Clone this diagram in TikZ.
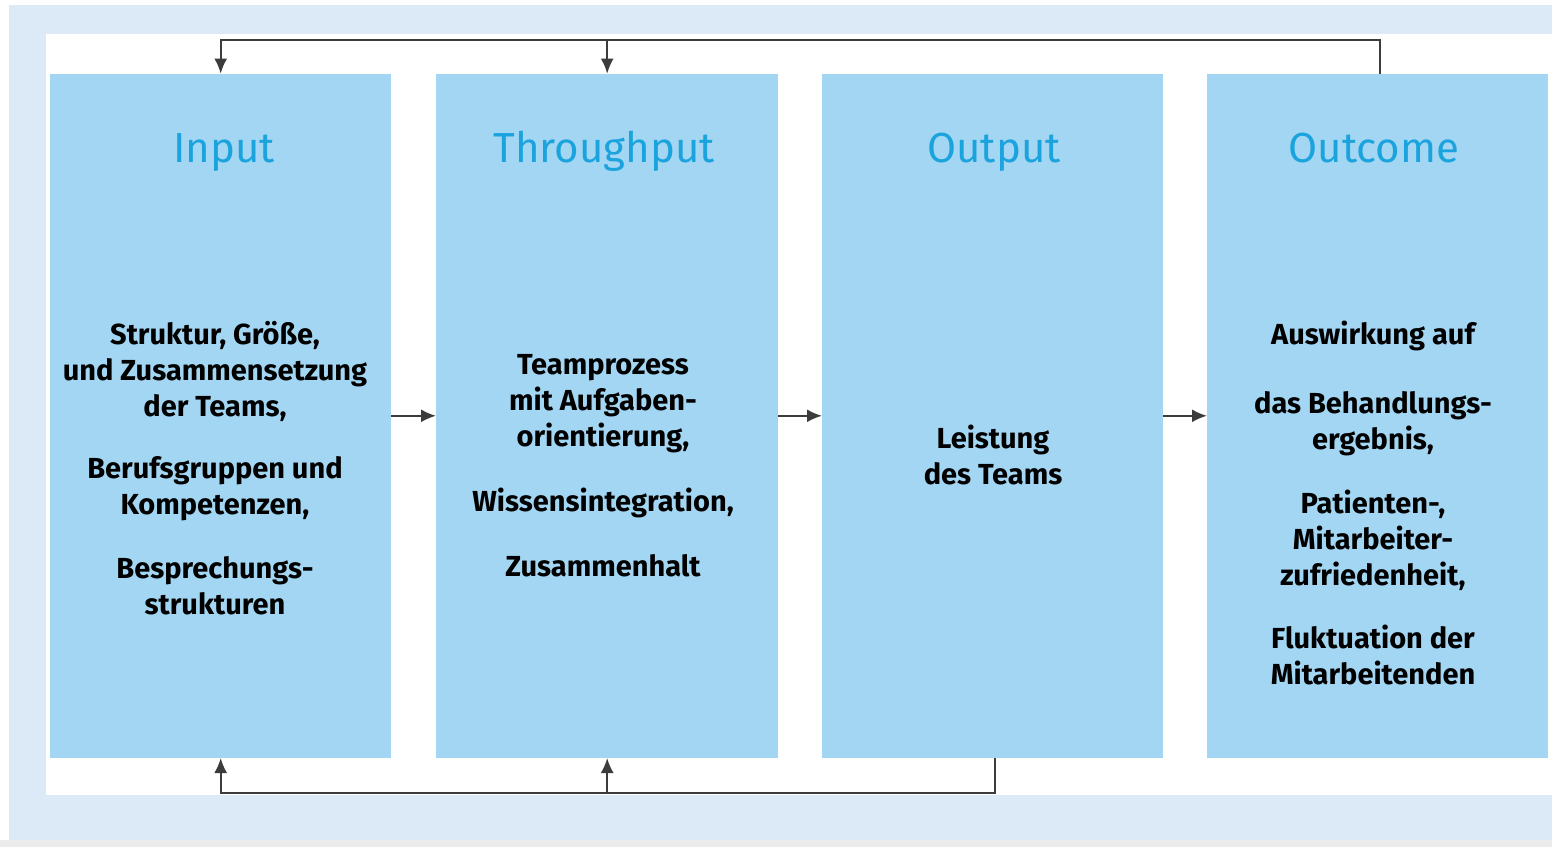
\documentclass[tikz,border=0pt]{standalone}
\usepackage{fontspec}
\setmainfont{Fira Sans}
\usetikzlibrary{positioning,calc,arrows.meta}

\definecolor{boxblue}{RGB}{163,214,242}
\definecolor{titleblue}{RGB}{27,163,222}
\definecolor{bgblue}{RGB}{220,233,246}
\definecolor{stripgray}{RGB}{236,236,236}
\definecolor{linegray}{RGB}{60,60,60}

\tikzset{
	phase/.style={fill=boxblue, minimum width=341pt, minimum height=684pt,
		inner sep=0pt, anchor=south west},
	heading/.style={text=titleblue, anchor=base, font=\fontsize{42}{50}\selectfont},
	body/.style={align=center, font=\bfseries\fontsize{29}{36}\selectfont},
	link/.style={draw=linegray, line width=2pt},
	tip/.style={-{Latex[length=15pt,width=13pt]}}
}

\begin{document}
\begin{tikzpicture}[x=1pt, y=1pt]
	\useasboundingbox (0,0) rectangle (1552,847);
	% background
	\fill[white] (0,0) rectangle (1552,847);
	\fill[stripgray] (0,0) rectangle (1552,7);
	\fill[bgblue] (9,7) rectangle (1552,842);
	\fill[white] (46,52) rectangle (1552,813);

	% the four phases
	\node[phase] (input) at (50,89) {};
	\node[phase, minimum width=342pt] (throughput) at (436,89) {};
	\node[phase] (output) at (822,89) {};
	\node[phase] (outcome) at (1207,89) {};

	\node[heading] (inputtitle) at (224,684) {Input};
	\node[heading] (throughputtitle) at (604,684) {Throughput};
	\node[heading] (outputtitle) at (994,684) {Output};
	\node[heading] (outcometitle) at (1374,684) {Outcome};

	\node[body] (inputtext) at (215,379) {Struktur, Größe,\\ und Zusammensetzung\\ der Teams,\\[26pt]
		Berufsgruppen und\\ Kompetenzen,\\[28pt] Besprechungs-\\ strukturen};
	\node[body] (throughputtext) at (603,381) {Teamprozess\\ mit Aufgaben-\\ orientierung,\\[29pt]
		Wissensintegration,\\[29pt] Zusammenhalt};
	\node[body] (outputtext) at (993,392) {Leistung\\ des Teams};
	\node[body] (outcometext) at (1373,344) {Auswirkung auf\\[33pt] das Behandlungs-\\ ergebnis,\\[28pt]
		Patienten-,\\ Mitarbeiter-\\ zufriedenheit,\\[27pt] Fluktuation der\\ Mitarbeitenden};

	% connectors
	\coordinate (topline) at (0,807);
	\coordinate (bottomline) at (0,54);

	\draw[link, tip] (input.east) -- (throughput.west);
	\draw[link, tip] (throughput.east) -- (output.west);
	\draw[link, tip] (output.east) -- (outcome.west);

	\draw[link, tip] ([xshift=2pt]outcome.north) |- (input.north |- topline) -- (input.north);
	\draw[link, tip] (throughput.north |- topline) -- (throughput.north);

	\draw[link, tip] ([xshift=2pt]output.south) |- (input.south |- bottomline) -- (input.south);
	\draw[link, tip] (throughput.south |- bottomline) -- (throughput.south);
\end{tikzpicture}
\end{document}
